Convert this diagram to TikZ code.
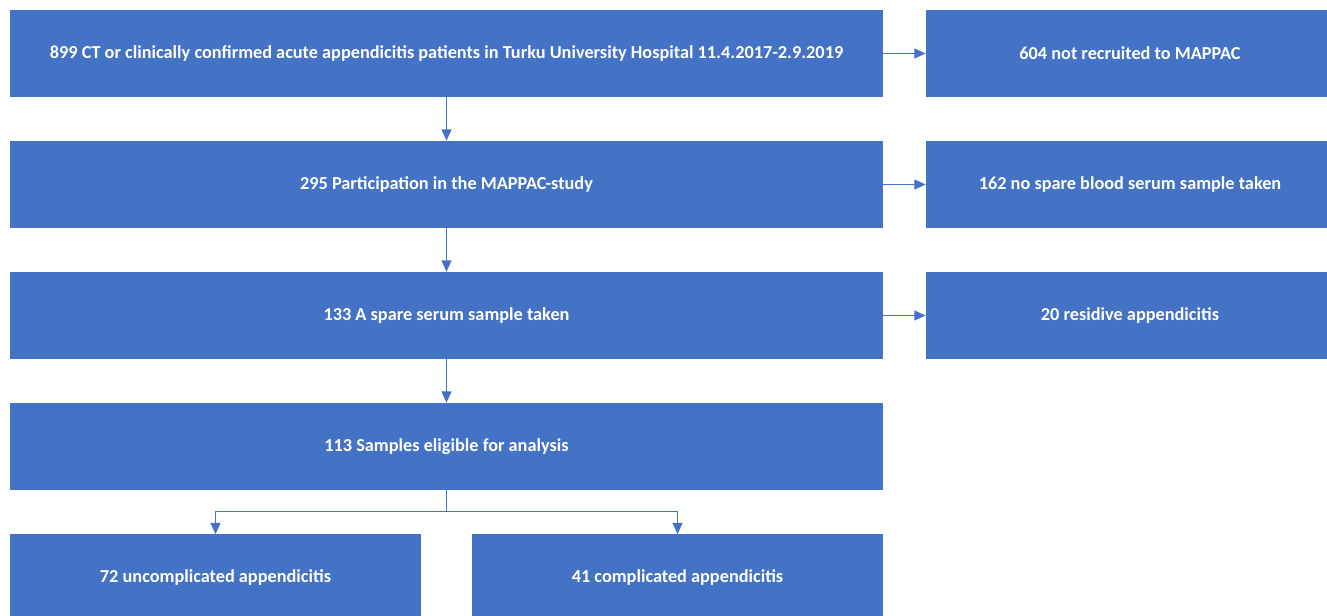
\documentclass[tikz,border=0pt]{standalone}
\usepackage{fontspec}
\setmainfont{Carlito}
\usepackage{xcolor}
\usetikzlibrary{calc,
	positioning,
	arrows.meta}
\definecolor{flowblue}{HTML}{4472C4}
\tikzset{
	box/.style={fill=flowblue, draw=none, text=white, font=\bfseries\fontsize{13pt}{15pt}\selectfont, minimum height=2.175cm, inner sep=0pt},
	wide/.style={box, minimum width=21.825cm},
	side/.style={box, minimum width=10.2cm},
	half/.style={box, minimum width=10.275cm},
	link/.style={draw=flowblue, line width=0.9pt, -{Triangle[length=8pt,width=7pt]}}
}

\begin{document}
\begin{tikzpicture}[x=0.025cm, y=-0.025cm]
	\useasboundingbox (0,0) rectangle (1327,616);
	\begin{scope}
	\clip (0,0) rectangle (1327,616);
	% main column
	\node (total) [wide] at (446.5,53.5) {899 CT or clinically confirmed acute appendicitis patients in Turku University Hospital 11.4.2017-2.9.2019};
	\node (study) [wide] at (446.5,184.5) {295 Participation in the MAPPAC-study};
	\node (serum) [wide] at (446.5,315.5) {133 A spare serum sample taken};
	\node (eligible) [wide] at (446.5,446.5) {113 Samples eligible for analysis};
	% excluded
	\node (notrec) [side] at (1130,53.5) {604 not recruited to MAPPAC};
	\node (nosample) [side] at (1130,184.5) {162 no spare blood serum sample taken};
	\node (residive) [side] at (1130,315.5) {20 residive appendicitis};
	% groups
	\node (uncompl) [half] at (215.5,578) {72 uncomplicated appendicitis};
	\node (compl) [half] at (677.5,578) {41 complicated appendicitis};
	\end{scope}

	\draw [link] (total) -- (study);
	\draw [link] (study) -- (serum);
	\draw [link] (serum) -- (eligible);
	\draw [link] (total) -- (notrec);
	\draw [link] (study) -- (nosample);
	\draw [link] (serum) -- (residive);
	\coordinate (split) at ($(eligible.south)+(0,21)$);
	\draw [link] (eligible.south) -- (split) -| (uncompl.north);
	\draw [link] (split) -| (compl.north);
\end{tikzpicture}
\end{document}
